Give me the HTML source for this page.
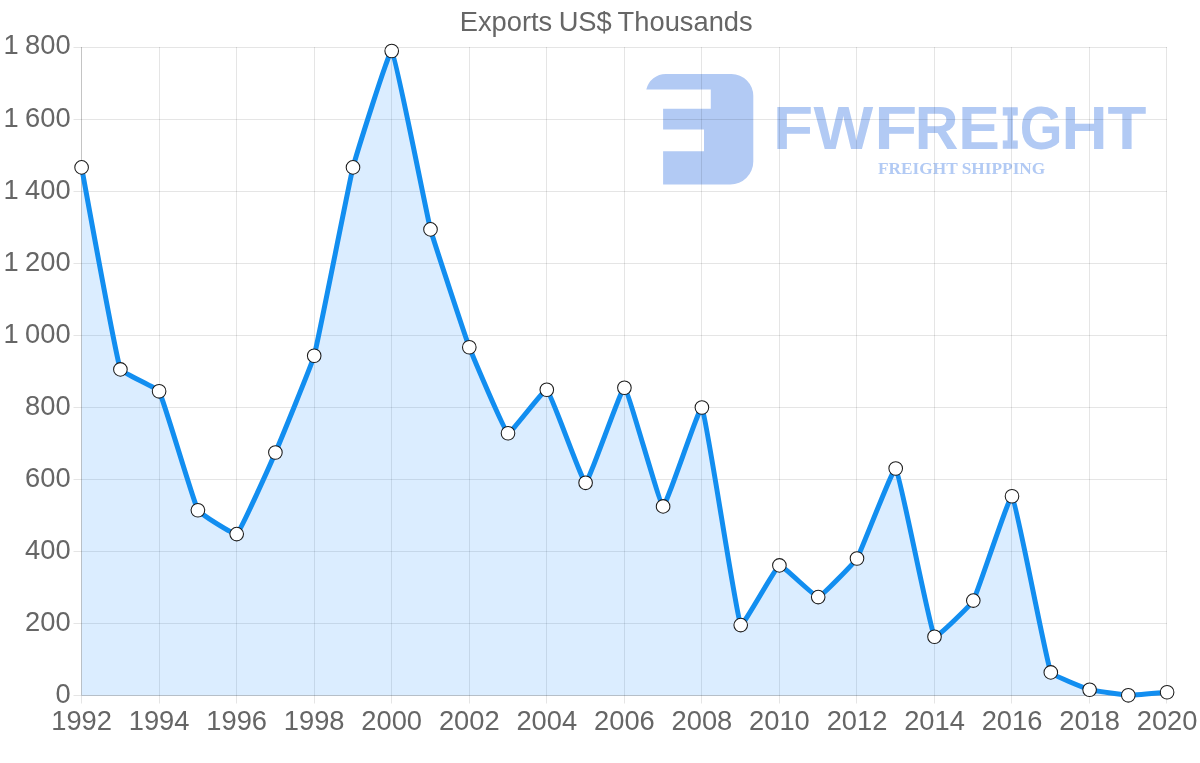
<!DOCTYPE html>
<html lang="en"><head><meta charset="utf-8"><title>Exports US$ Thousands</title>
<style>html,body{margin:0;padding:0;background:#fff;}body{width:1200px;height:763px;overflow:hidden;}svg{display:block;}text{font-family:"Liberation Sans", sans-serif;}</style></head><body>
<svg width="1200" height="763" viewBox="0 0 1200 763">
<rect width="1200" height="763" fill="#ffffff"/>
<g id="logo" fill="#b2caf4">
<path d="M646.3 89.6 A20 20 0 0 1 666 74 L731.5 74 A21.8 21.8 0 0 1 753.3 95.8 L753.3 161.5 A23 23 0 0 1 730.3 184.5 L663.1 184.5 L663.1 151.2 L704 151.2 L704 129.4 L663.1 129.4 L663.1 108.8 L710.8 108.8 L710.8 89.6 Z"/>
<text id="brand" font-weight="bold" font-size="61.63" y="149.2"><tspan x="773.10" textLength="40.12" lengthAdjust="spacingAndGlyphs">F</tspan><tspan x="813.64" textLength="59.71" lengthAdjust="spacingAndGlyphs">W</tspan><tspan x="874.28" textLength="43.01" lengthAdjust="spacingAndGlyphs">F</tspan><tspan x="914.74" textLength="43.74" lengthAdjust="spacingAndGlyphs">R</tspan><tspan x="958.32" textLength="41.61" lengthAdjust="spacingAndGlyphs">E</tspan><tspan x="1000.87" dy="-1.50" textLength="18.93" lengthAdjust="spacingAndGlyphs" font-size="61.91" stroke="#b2caf4" stroke-width="1.4" style="font-family:&quot;Liberation Mono&quot;,monospace">I</tspan><tspan x="1019.65" dy="1.5" textLength="42.75" lengthAdjust="spacingAndGlyphs">G</tspan><tspan x="1061.53" textLength="46.06" lengthAdjust="spacingAndGlyphs">H</tspan><tspan x="1107.60" textLength="38.89" lengthAdjust="spacingAndGlyphs">T</tspan></text>
<text id="tag" style="font-family:&quot;Liberation Serif&quot;,serif" font-weight="bold" font-size="17" y="174.2" x="878" textLength="167.3" lengthAdjust="spacingAndGlyphs">FREIGHT SHIPPING</text>
</g>
<g id="grid" stroke-width="1"><line x1="73.5" y1="695.5" x2="81" y2="695.5" stroke="rgba(0,0,0,0.1)"/><line x1="81" y1="695.5" x2="1167" y2="695.5" stroke="rgba(0,0,0,0.23)"/><line x1="73.5" y1="623.5" x2="1167" y2="623.5" stroke="rgba(0,0,0,0.1)"/><line x1="73.5" y1="551.5" x2="1167" y2="551.5" stroke="rgba(0,0,0,0.1)"/><line x1="73.5" y1="479.5" x2="1167" y2="479.5" stroke="rgba(0,0,0,0.1)"/><line x1="73.5" y1="407.5" x2="1167" y2="407.5" stroke="rgba(0,0,0,0.1)"/><line x1="73.5" y1="335.5" x2="1167" y2="335.5" stroke="rgba(0,0,0,0.1)"/><line x1="73.5" y1="263.5" x2="1167" y2="263.5" stroke="rgba(0,0,0,0.1)"/><line x1="73.5" y1="191.5" x2="1167" y2="191.5" stroke="rgba(0,0,0,0.1)"/><line x1="73.5" y1="119.5" x2="1167" y2="119.5" stroke="rgba(0,0,0,0.1)"/><line x1="73.5" y1="47.5" x2="1167" y2="47.5" stroke="rgba(0,0,0,0.1)"/><line x1="81.5" y1="47" x2="81.5" y2="695" stroke="rgba(0,0,0,0.23)"/><line x1="81.5" y1="696" x2="81.5" y2="703.5" stroke="rgba(0,0,0,0.1)"/><line x1="159.5" y1="47" x2="159.5" y2="703.5" stroke="rgba(0,0,0,0.1)"/><line x1="236.5" y1="47" x2="236.5" y2="703.5" stroke="rgba(0,0,0,0.1)"/><line x1="314.5" y1="47" x2="314.5" y2="703.5" stroke="rgba(0,0,0,0.1)"/><line x1="391.5" y1="47" x2="391.5" y2="703.5" stroke="rgba(0,0,0,0.1)"/><line x1="469.5" y1="47" x2="469.5" y2="703.5" stroke="rgba(0,0,0,0.1)"/><line x1="546.5" y1="47" x2="546.5" y2="703.5" stroke="rgba(0,0,0,0.1)"/><line x1="624.5" y1="47" x2="624.5" y2="703.5" stroke="rgba(0,0,0,0.1)"/><line x1="701.5" y1="47" x2="701.5" y2="703.5" stroke="rgba(0,0,0,0.1)"/><line x1="779.5" y1="47" x2="779.5" y2="703.5" stroke="rgba(0,0,0,0.1)"/><line x1="856.5" y1="47" x2="856.5" y2="703.5" stroke="rgba(0,0,0,0.1)"/><line x1="934.5" y1="47" x2="934.5" y2="703.5" stroke="rgba(0,0,0,0.1)"/><line x1="1011.5" y1="47" x2="1011.5" y2="703.5" stroke="rgba(0,0,0,0.1)"/><line x1="1089.5" y1="47" x2="1089.5" y2="703.5" stroke="rgba(0,0,0,0.1)"/><line x1="1166.5" y1="47" x2="1166.5" y2="703.5" stroke="rgba(0,0,0,0.1)"/></g>
<path d="M81.6 167.4 C84.7 183.6 115.3 354.7 120.4 369.4 C121.5 372.6 157.5 388.3 159.1 391.3 C163.7 399.6 193.4 501.8 197.9 510.2 C199.6 513.2 234.6 535.6 236.7 534.1 C240.8 531.0 272.6 459.1 275.4 452.5 C278.8 444.9 312.0 363.7 314.2 355.7 C318.2 340.9 349.2 182.3 353.0 167.4 C355.4 157.9 389.3 49.0 391.7 51.0 C395.5 54.0 426.8 215.3 430.5 229.4 C433.0 239.0 465.8 337.9 469.3 347.2 C472.0 354.2 504.2 431.1 508.0 433.2 C510.4 434.5 544.5 388.2 546.8 389.7 C550.7 392.2 582.5 482.9 585.6 482.8 C588.7 482.7 621.6 386.8 624.4 387.7 C627.8 388.7 659.8 505.5 663.1 506.4 C666.0 507.1 699.9 404.4 701.9 407.5 C706.1 413.9 736.0 615.5 740.7 625.1 C742.2 628.2 775.8 566.7 779.4 565.4 C782.0 564.5 815.2 597.4 818.2 597.1 C821.4 596.8 854.7 562.2 857.0 558.5 C860.9 551.9 893.5 466.2 895.7 468.5 C899.7 472.5 929.7 628.6 934.5 636.7 C936.0 639.2 971.3 604.2 973.3 600.6 C977.5 593.0 1009.7 494.0 1012.0 496.2 C1015.9 499.8 1045.8 659.9 1050.8 672.4 C1052.0 675.3 1086.3 688.7 1089.6 689.7 C1092.5 690.6 1125.2 695.2 1128.3 695.3 C1131.4 695.4 1164.0 692.4 1167.1 692.2 L1167.1 695.5 L81.6 695.5 Z" fill="rgba(30,144,255,0.16)"/>
<path d="M81.6 167.4 C84.7 183.6 115.3 354.7 120.4 369.4 C121.5 372.6 157.5 388.3 159.1 391.3 C163.7 399.6 193.4 501.8 197.9 510.2 C199.6 513.2 234.6 535.6 236.7 534.1 C240.8 531.0 272.6 459.1 275.4 452.5 C278.8 444.9 312.0 363.7 314.2 355.7 C318.2 340.9 349.2 182.3 353.0 167.4 C355.4 157.9 389.3 49.0 391.7 51.0 C395.5 54.0 426.8 215.3 430.5 229.4 C433.0 239.0 465.8 337.9 469.3 347.2 C472.0 354.2 504.2 431.1 508.0 433.2 C510.4 434.5 544.5 388.2 546.8 389.7 C550.7 392.2 582.5 482.9 585.6 482.8 C588.7 482.7 621.6 386.8 624.4 387.7 C627.8 388.7 659.8 505.5 663.1 506.4 C666.0 507.1 699.9 404.4 701.9 407.5 C706.1 413.9 736.0 615.5 740.7 625.1 C742.2 628.2 775.8 566.7 779.4 565.4 C782.0 564.5 815.2 597.4 818.2 597.1 C821.4 596.8 854.7 562.2 857.0 558.5 C860.9 551.9 893.5 466.2 895.7 468.5 C899.7 472.5 929.7 628.6 934.5 636.7 C936.0 639.2 971.3 604.2 973.3 600.6 C977.5 593.0 1009.7 494.0 1012.0 496.2 C1015.9 499.8 1045.8 659.9 1050.8 672.4 C1052.0 675.3 1086.3 688.7 1089.6 689.7 C1092.5 690.6 1125.2 695.2 1128.3 695.3 C1131.4 695.4 1164.0 692.4 1167.1 692.2" fill="none" stroke="#128ef0" stroke-width="5" stroke-linejoin="round" stroke-linecap="butt"/>
<g fill="#ffffff" stroke="#1a1a1a" stroke-width="1.05"><circle cx="81.6" cy="167.4" r="6.8"/><circle cx="120.4" cy="369.4" r="6.8"/><circle cx="159.1" cy="391.3" r="6.8"/><circle cx="197.9" cy="510.2" r="6.8"/><circle cx="236.7" cy="534.1" r="6.8"/><circle cx="275.4" cy="452.5" r="6.8"/><circle cx="314.2" cy="355.7" r="6.8"/><circle cx="353.0" cy="167.4" r="6.8"/><circle cx="391.7" cy="51.0" r="6.8"/><circle cx="430.5" cy="229.4" r="6.8"/><circle cx="469.3" cy="347.2" r="6.8"/><circle cx="508.0" cy="433.2" r="6.8"/><circle cx="546.8" cy="389.7" r="6.8"/><circle cx="585.6" cy="482.8" r="6.8"/><circle cx="624.4" cy="387.7" r="6.8"/><circle cx="663.1" cy="506.4" r="6.8"/><circle cx="701.9" cy="407.5" r="6.8"/><circle cx="740.7" cy="625.1" r="6.8"/><circle cx="779.4" cy="565.4" r="6.8"/><circle cx="818.2" cy="597.1" r="6.8"/><circle cx="857.0" cy="558.5" r="6.8"/><circle cx="895.7" cy="468.5" r="6.8"/><circle cx="934.5" cy="636.7" r="6.8"/><circle cx="973.3" cy="600.6" r="6.8"/><circle cx="1012.0" cy="496.2" r="6.8"/><circle cx="1050.8" cy="672.4" r="6.8"/><circle cx="1089.6" cy="689.7" r="6.8"/><circle cx="1128.3" cy="695.3" r="6.8"/><circle cx="1167.1" cy="692.2" r="6.8"/></g>
<g fill="#666666" font-size="27.3" word-spacing="-1.2">
<text x="606.2" y="30.6" text-anchor="middle">Exports US$ Thousands</text>
<text x="70.6" y="703.0" text-anchor="end">0</text>
<text x="70.6" y="631.0" text-anchor="end">200</text>
<text x="70.6" y="559.0" text-anchor="end">400</text>
<text x="70.6" y="487.0" text-anchor="end">600</text>
<text x="70.6" y="415.0" text-anchor="end">800</text>
<text x="70.6" y="343.0" text-anchor="end">1 000</text>
<text x="70.6" y="271.0" text-anchor="end">1 200</text>
<text x="70.6" y="199.0" text-anchor="end">1 400</text>
<text x="70.6" y="127.0" text-anchor="end">1 600</text>
<text x="70.6" y="53.9" text-anchor="end">1 800</text>
<text x="81.6" y="730" text-anchor="middle">1992</text>
<text x="159.1" y="730" text-anchor="middle">1994</text>
<text x="236.7" y="730" text-anchor="middle">1996</text>
<text x="314.2" y="730" text-anchor="middle">1998</text>
<text x="391.7" y="730" text-anchor="middle">2000</text>
<text x="469.3" y="730" text-anchor="middle">2002</text>
<text x="546.8" y="730" text-anchor="middle">2004</text>
<text x="624.4" y="730" text-anchor="middle">2006</text>
<text x="701.9" y="730" text-anchor="middle">2008</text>
<text x="779.4" y="730" text-anchor="middle">2010</text>
<text x="857.0" y="730" text-anchor="middle">2012</text>
<text x="934.5" y="730" text-anchor="middle">2014</text>
<text x="1012.0" y="730" text-anchor="middle">2016</text>
<text x="1089.6" y="730" text-anchor="middle">2018</text>
<text x="1167.1" y="730" text-anchor="middle">2020</text>
</g>
</svg></body></html>
